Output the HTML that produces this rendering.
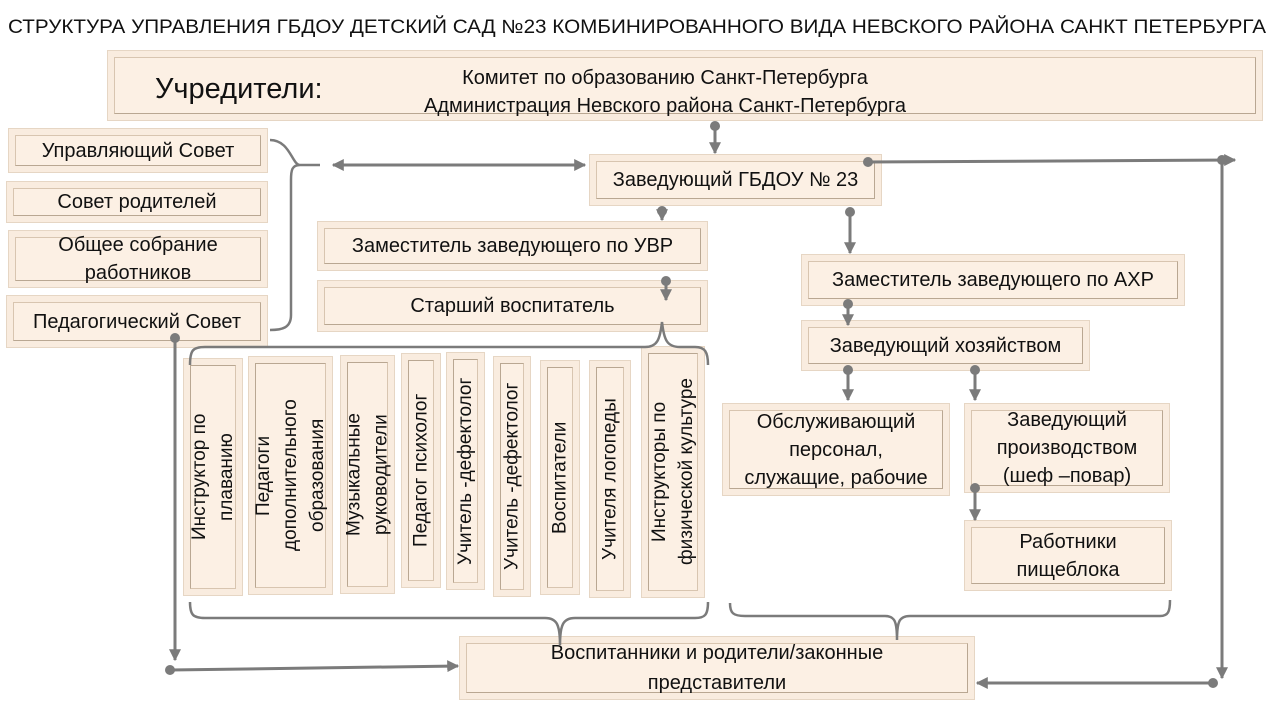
<!DOCTYPE html>
<html><head><meta charset="utf-8">
<style>
body{margin:0;width:1280px;height:720px;background:#fff;position:relative;overflow:hidden;font-family:"Liberation Sans","DejaVu Sans",sans-serif;color:#111}
.b{position:absolute;background:#f9ecdf;border:1px solid #e6d6c4;box-sizing:border-box}
.b>div{position:absolute;left:6px;top:6px;right:6px;bottom:6px;border:1px solid #d8c5b0;border-right-color:#b9a792;border-bottom-color:#b9a792;background:#fcf0e4;display:flex;align-items:center;justify-content:center;text-align:center;font-size:20px;line-height:28px;white-space:nowrap}
.v>div{writing-mode:vertical-rl;transform:rotate(180deg);font-size:19px;line-height:27px}
svg{position:absolute;left:0;top:0}
</style></head><body>
<svg width="1280" height="40"><text x="8" y="33" font-size="19" textLength="1258" lengthAdjust="spacingAndGlyphs" font-family="Liberation Sans, sans-serif" fill="#111">СТРУКТУРА УПРАВЛЕНИЯ ГБДОУ ДЕТСКИЙ САД №23 КОМБИНИРОВАННОГО ВИДА НЕВСКОГО РАЙОНА САНКТ ПЕТЕРБУРГА</text></svg>

<div class="b" style="left:107px;top:50px;width:1156px;height:71px"><div style="justify-content:flex-start"><span style="font-size:29px;margin-left:40px;margin-top:6px">Учредители:</span><span style="position:absolute;left:300px;width:500px;top:6px;font-size:20px;line-height:28px">Комитет по образованию Санкт-Петербурга<br>Администрация Невского района Санкт-Петербурга</span></div></div>

<div class="b" style="left:8px;top:128px;width:260px;height:45px"><div>Управляющий Совет</div></div>
<div class="b" style="left:6px;top:181px;width:262px;height:42px"><div>Совет родителей</div></div>
<div class="b" style="left:8px;top:230px;width:260px;height:58px"><div>Общее собрание<br>работников</div></div>
<div class="b" style="left:6px;top:295px;width:262px;height:53px"><div>Педагогический Совет</div></div>

<div class="b" style="left:589px;top:154px;width:293px;height:52px"><div>Заведующий ГБДОУ № 23</div></div>
<div class="b" style="left:317px;top:221px;width:391px;height:50px"><div>Заместитель заведующего по УВР</div></div>
<div class="b" style="left:317px;top:280px;width:391px;height:52px"><div>Старший воспитатель</div></div>
<div class="b" style="left:801px;top:254px;width:384px;height:52px"><div>Заместитель заведующего по АХР</div></div>
<div class="b" style="left:801px;top:320px;width:289px;height:51px"><div>Заведующий хозяйством</div></div>
<div class="b" style="left:722px;top:403px;width:228px;height:93px"><div>Обслуживающий<br>персонал,<br>служащие, рабочие</div></div>
<div class="b" style="left:964px;top:403px;width:206px;height:90px"><div>Заведующий<br>производством<br>(шеф –повар)</div></div>
<div class="b" style="left:964px;top:520px;width:208px;height:71px"><div>Работники<br>пищеблока</div></div>
<div class="b" style="left:459px;top:636px;width:516px;height:64px"><div style="line-height:30px">Воспитанники и родители/законные<br>представители</div></div>

<div class="b v" style="left:183px;top:358px;width:60px;height:238px"><div>Инструктор по<br>плаванию</div></div>
<div class="b v" style="left:248px;top:356px;width:85px;height:239px"><div>Педагоги<br>дополнительного<br>образования</div></div>
<div class="b v" style="left:340px;top:355px;width:55px;height:239px"><div>Музыкальные<br>руководители</div></div>
<div class="b v" style="left:401px;top:353px;width:40px;height:235px"><div>Педагог психолог</div></div>
<div class="b v" style="left:446px;top:352px;width:39px;height:238px"><div>Учитель -дефектолог</div></div>
<div class="b v" style="left:493px;top:356px;width:38px;height:241px"><div>Учитель -дефектолог</div></div>
<div class="b v" style="left:540px;top:360px;width:40px;height:235px"><div>Воспитатели</div></div>
<div class="b v" style="left:589px;top:360px;width:42px;height:238px"><div>Учителя логопеды</div></div>
<div class="b v" style="left:641px;top:346px;width:64px;height:252px"><div>Инструкторы по<br>физической культуре</div></div>

<svg width="1280" height="720">
<defs>
<marker id="a" viewBox="0 0 10 10" refX="9" refY="5" markerWidth="4" markerHeight="4" orient="auto-start-reverse"><path d="M0,0L10,5L0,10z" fill="#7b7b7b"/></marker>
</defs>
<g stroke="#7b7b7b" stroke-width="3" fill="none">
<path d="M270,140 C290,140 292,165 300,165 L320,165 M300,165 C292,165 291,170 291,180 L291,315 C291,328 282,330 270,330" stroke-width="2.5"/>
<line x1="333" y1="165" x2="585" y2="165" marker-start="url(#a)" marker-end="url(#a)"/>
<line x1="715" y1="126" x2="715" y2="153" marker-end="url(#a)"/>
<line x1="662" y1="211" x2="662" y2="220" marker-end="url(#a)"/>
<line x1="666" y1="281" x2="666" y2="300" marker-end="url(#a)"/>
<line x1="850" y1="212" x2="850" y2="253" marker-end="url(#a)"/>
<line x1="848" y1="304" x2="848" y2="325" marker-end="url(#a)"/>
<line x1="848" y1="370" x2="848" y2="400" marker-end="url(#a)"/>
<line x1="975" y1="370" x2="975" y2="400" marker-end="url(#a)"/>
<line x1="975" y1="488" x2="975" y2="520" marker-end="url(#a)"/>
<line x1="868" y1="162" x2="1235" y2="160" marker-end="url(#a)"/>
<line x1="1222" y1="160" x2="1222" y2="678" marker-end="url(#a)"/>
<line x1="1213" y1="683" x2="977" y2="683" marker-end="url(#a)"/>
<line x1="175" y1="338" x2="175" y2="660" marker-end="url(#a)"/>
<line x1="170" y1="670" x2="458" y2="666" marker-end="url(#a)"/>
<path d="M190,365 C190,350 193,347 205,347 L645,347 C657,347 660,340 662,322 C664,340 667,347 680,347 L695,347 C705,347 708,352 708,365" stroke-width="2.5"/>
<path d="M190,602 C190,615 193,618 205,618 L545,618 C557,618 560,625 560,645 C560,625 563,618 575,618 L695,618 C705,618 708,615 708,602" stroke-width="2.5"/>
<path d="M730,603 C730,613 733,616 745,616 L885,616 C895,616 897,622 897,640 C897,622 899,616 910,616 L1160,616 C1168,616 1170,612 1170,600" stroke-width="2.5"/>
</g>
<g fill="#7b7b7b">
<circle cx="715" cy="126" r="5"/><circle cx="662" cy="211" r="5"/><circle cx="666" cy="281" r="5"/>
<circle cx="850" cy="212" r="5"/><circle cx="848" cy="304" r="5"/><circle cx="848" cy="370" r="5"/>
<circle cx="975" cy="370" r="5"/><circle cx="975" cy="488" r="5"/><circle cx="868" cy="162" r="5"/>
<circle cx="1222" cy="160" r="5"/><circle cx="1213" cy="683" r="5"/><circle cx="175" cy="338" r="5"/>
<circle cx="170" cy="670" r="5"/>
</g>
</svg>
</body></html>
